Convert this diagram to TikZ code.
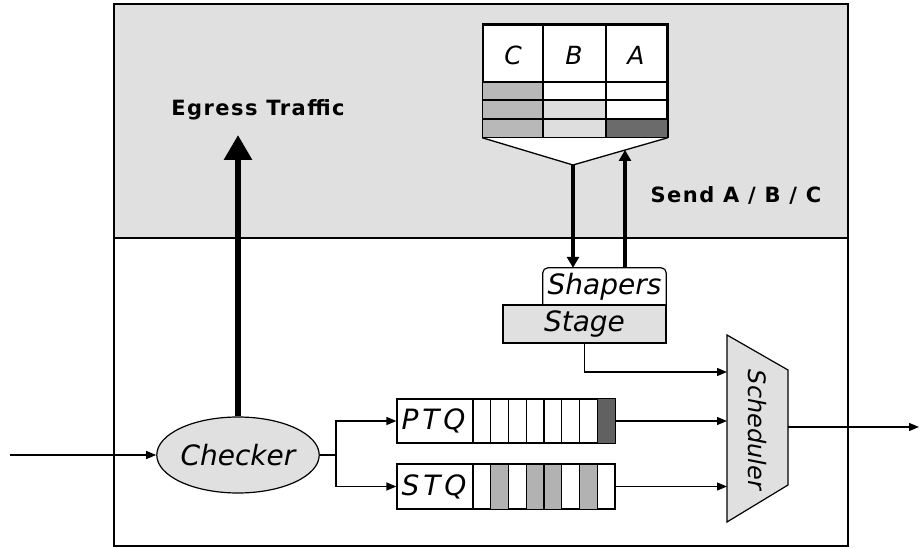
\documentclass[tikz,border=0pt]{standalone}
\usepackage{fontspec}
\setmainfont{DejaVu Sans}
\usetikzlibrary{arrows.meta,shapes.geometric}
\definecolor{bgshade}{gray}{0.88}
\definecolor{cellC}{gray}{0.72}
\definecolor{cellB}{gray}{0.87}
\definecolor{cellA}{gray}{0.42}
\definecolor{qdark}{gray}{0.38}
\definecolor{qmid}{gray}{0.70}
\tikzset{
  frame/.style={line width=1.5pt},
  lbl/.style={font=\fontsize{28}{30}\selectfont\itshape, inner sep=0pt},
  qlbl/.style={font=\fontsize{28}{30}\selectfont\itshape\addfontfeature{LetterSpace=14}, inner sep=0pt},
  hdr/.style={font=\fontsize{25}{28}\selectfont\itshape, inner sep=0pt},
  boldlbl/.style={font=\fontsize{21}{24}\selectfont\bfseries\addfontfeature{LetterSpace=7}, inner sep=0pt},
  conn/.style={line width=1.3pt, -{Triangle[length=10pt,width=8pt]}},
  bigconn/.style={line width=4pt, -{Triangle[length=11pt,width=12pt]}},
  egress/.style={line width=6pt, -{Triangle[length=25pt,width=27pt]}},
  qbox/.style={draw, line width=1.2pt, minimum width=218pt, minimum height=44pt, inner sep=0pt},
  gridline/.style={line width=1.2pt}
}
\begin{document}
\begin{tikzpicture}[x=1pt,y=-1pt]
\useasboundingbox (0,0) rectangle (919,548);
% background regions
\fill[bgshade] (114,4) rectangle (848,238);
\draw[frame] (114,4) rectangle (848,546);
\draw[frame] (114,238) -- (848,238);

% table of classes
\node[draw, line width=1.5pt, fill=white, minimum width=184pt, minimum height=112pt, inner sep=0pt] (tbl) at (575,81) {};
\coordinate (fun) at (573,165);
\filldraw[fill=white, line width=1.3pt] (tbl.south west) -- (fun) -- (tbl.south east);
\fill[cellC] (483,82) rectangle (543,137);
\fill[cellB] (543,100) rectangle (606,137);
\fill[cellA] (606,119) rectangle (667,137);
\draw[gridline] (543,25) -- (543,137);
\draw[gridline] (606,25) -- (606,137);
\draw[gridline] (483,82) -- (667,82);
\draw[gridline] (483,100) -- (667,100);
\draw[gridline] (483,119) -- (667,119);
\draw[line width=1.5pt] (tbl.north west) rectangle (tbl.south east);
\node[hdr] (hC) at (513,55) {C};
\node[hdr] (hB) at (574,55) {B};
\node[hdr] (hA) at (636,55) {A};

% labels
\node[boldlbl] (egl) at (258,110) {Egress Traffic};
\node[boldlbl] (sendl) at (736,195) {Send A / B / C};

% shapers and stage
\node[lbl, minimum width=123pt, minimum height=37pt] (shapers) at (604.5,286.5) {Shapers};
\draw[line width=1.2pt, rounded corners=5pt] (shapers.south west) |- (shapers.north east) -- (shapers.south east);
\node[lbl, draw, line width=1.2pt, fill=bgshade, minimum width=163pt, minimum height=38pt] (stage) at (584.5,324) {Stage};

\coordinate (sendtip) at (625,150);
\draw[bigconn] (fun) -- (fun |- shapers.north);
\draw[bigconn] (sendtip |- shapers.north) -- (sendtip);

% scheduler
\coordinate (s1) at (727,335);
\coordinate (s2) at (788,370);
\coordinate (s3) at (788,485);
\coordinate (s4) at (727,522);
\filldraw[fill=bgshade, line width=1.2pt] (s1) -- (s2) -- (s3) -- (s4) -- cycle;
\node[font=\fontsize{24}{26}\selectfont\itshape, inner sep=0pt, rotate=-90] (sched) at (757,430) {Scheduler};
\coordinate (sin0) at (727,372);
\draw[conn] (stage.south) |- (sin0);

% queues
\node[qbox] (ptq) at (506,421) {};
\node[qbox] (stq) at (506,486.5) {};
\fill[qdark] (597.25,399) rectangle (615,443);
\foreach \i in {2,4,5,7} {
  \fill[qmid] ({473+(\i-1)*17.75},464.5) rectangle ({473+\i*17.75},508.5);
}
\foreach \i in {0,...,7} {
  \draw[gridline] ({473+\i*17.75},399) -- ({473+\i*17.75},443);
  \draw[gridline] ({473+\i*17.75},464.5) -- ({473+\i*17.75},508.5);
}
\draw[line width=1.2pt] (ptq.north west) rectangle (ptq.south east);
\draw[line width=1.2pt] (stq.north west) rectangle (stq.south east);
\node[qlbl, anchor=west] (ptqt) at ([xshift=5pt]ptq.west) {PTQ};
\node[qlbl, anchor=west] (stqt) at ([xshift=5pt]stq.west) {STQ};

\draw[conn] (ptq.east) -- (ptq.east -| s1);
\draw[conn] (stq.east) -- (stq.east -| s1);

% checker
\node[ellipse, draw, line width=1.2pt, fill=bgshade, minimum width=132pt, minimum height=76pt, inner sep=0pt, font=\fontsize{28}{30}\selectfont\itshape] (checker) at (238,455) {Checker};
\coordinate (in) at (10,455);
\coordinate (split) at (336,455);
\draw[conn] (in) -- (checker.west);
\draw[line width=1.3pt] (checker.east) -- (split);
\draw[conn] (split) |- (ptq.west);
\draw[conn] (split) |- (stq.west);

% egress
\coordinate (etip) at (238,135);
\draw[egress] (checker.north) -- (etip);

% output
\coordinate (out) at (919,427);
\draw[conn] (s2 |- out) -- (out);
\end{tikzpicture}
\end{document}
